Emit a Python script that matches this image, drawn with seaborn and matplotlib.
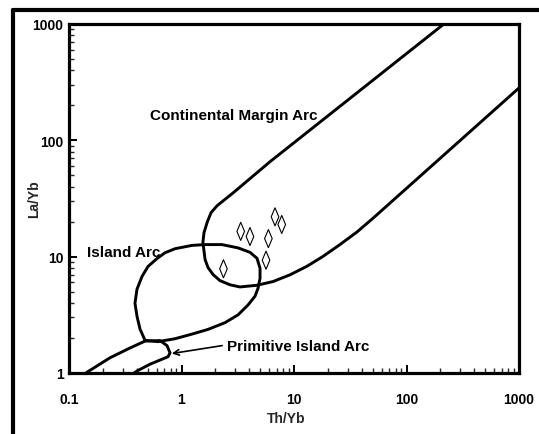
import numpy as np
import pandas as pd
import matplotlib
matplotlib.use("Agg")
import matplotlib.pyplot as plt
from matplotlib.path import Path
from matplotlib.lines import Line2D
import seaborn as sns

# ---- data (Th/Yb, La/Yb) ----
# Continental Margin Arc field outline
cma_th = [282, 211, 6.12, 2.87, 2.07, 1.83, 1.69, 1.585, 1.55, 1.62, 1.72,
          1.91, 2.20, 2.70, 3.31, 4.69, 6.50, 9.21, 13.1, 18.1, 25.6, 36.3,
          50.4, 1000, 1259]
cma_la = [1230, 986, 65.5, 35.3, 27.4, 23.9, 19.7, 16.1, 13.3, 9.46, 8.07,
          7.01, 6.22, 5.73, 5.49, 5.68, 6.11, 6.98, 8.29, 10.05, 12.7, 16.3,
          21.4, 282, 346]

# Island Arc field outline
ia_th = [0.474, 0.428, 0.402, 0.386, 0.402, 0.446, 0.504, 0.605, 0.713,
         0.875, 1.24, 1.62, 2.29, 3.18, 4.06, 4.69, 4.99, 4.99, 4.79, 4.50,
         3.90, 3.18, 2.44, 1.72, 1.24, 0.875, 0.618, 0.474]
ia_la = [1.91, 2.38, 3.08, 3.98, 5.25, 6.77, 8.24, 9.62, 10.8,
         11.7, 12.5, 12.7, 12.7, 11.9, 10.9, 9.68, 7.94, 6.51, 5.35, 4.57,
         3.84, 3.16, 2.71, 2.37, 2.16, 1.97, 1.86, 1.91]

# Primitive Island Arc field outline
pia_th = [0.125, 0.148, 0.231, 0.348, 0.474, 0.644, 0.743, 0.791, 0.759,
          0.525, 0.402, 0.334]
pia_la = [0.92, 1.03, 1.35, 1.64, 1.88, 1.90, 1.72, 1.49, 1.38,
          1.19, 1.04, 0.92]

# Samples
sample_th = [2.36, 3.36, 4.06, 5.64, 5.92, 6.78, 7.78]
sample_la = [7.87, 16.5, 14.9, 9.33, 14.3, 22.0, 18.9]

x_ticks = [0.1, 1, 10, 100, 1000]
x_ticklabels = ["0.1", "1", "10", "100", "1000"]
y_ticks = [1, 10, 100, 1000]
y_ticklabels = ["1", "10", "100", "1000"]

labels = {
    "Continental Margin Arc": (0.52, 165),
    "Island Arc": (0.145, 10.9),
    "Primitive Island Arc": (2.55, 1.72),
}
arrow_tail = (2.30, 1.72)
arrow_head = (0.82, 1.47)

# ---- plot ----
sns.set_style("white")
plt.rcParams["font.family"] = ["Liberation Sans", "DejaVu Sans"]
plt.rcParams["font.weight"] = "bold"

fig = plt.figure(figsize=(5.39, 4.35), dpi=100)
ax = fig.add_axes([69 / 539, 1 - 374 / 435, 450 / 539, 349 / 435])

for th, la in [(cma_th, cma_la), (ia_th, ia_la), (pia_th, pia_la)]:
    df = pd.DataFrame({"th": th, "la": la})
    sns.lineplot(data=df, x="th", y="la", sort=False, estimator=None,
                 color="black", linewidth=2.1, ax=ax)

diamond = Path([(0, 1), (0.42, 0), (0, -1), (-0.42, 0), (0, 1)],
               [Path.MOVETO, Path.LINETO, Path.LINETO, Path.LINETO, Path.CLOSEPOLY])
sdf = pd.DataFrame({"th": sample_th, "la": sample_la})
sns.scatterplot(data=sdf, x="th", y="la", marker=diamond, s=170,
                facecolors="none", edgecolor="black", linewidth=0.8, ax=ax,
                zorder=5)

ax.set_xscale("log")
ax.set_yscale("log")
ax.set_xlim(0.1, 1000)
ax.set_ylim(1, 1000)
ax.set_xticks(x_ticks)
ax.set_xticklabels(x_ticklabels)
ax.set_yticks(y_ticks)
ax.set_yticklabels(y_ticklabels)

for sp in ax.spines.values():
    sp.set_linewidth(2.3)
    sp.set_color("black")

ax.tick_params(which="major", direction="in", length=6, width=1.4,
               bottom=True, left=True, top=False, right=False,
               labelsize=10, colors="black")
ax.tick_params(which="minor", direction="in", length=3.5, width=1.0,
               bottom=True, left=True, top=False, right=False)
ax.tick_params(axis="x", which="major", pad=14)
ax.tick_params(axis="y", which="major", pad=4)
for t in ax.get_xticklabels() + ax.get_yticklabels():
    t.set_fontweight("bold")

ax.set_xlabel("Th/Yb", fontsize=10, fontweight="bold")
ax.set_ylabel("La/Yb", fontsize=10, fontweight="bold")
ax.xaxis.set_label_coords(0.482, -0.109)
ax.yaxis.set_label_coords(-0.062, 0.5)

for txt, (x, y) in labels.items():
    ax.text(x, y, txt, fontsize=11, fontweight="bold", ha="left",
            va="center", color="black")

ax.annotate("", xy=arrow_head, xytext=arrow_tail,
            arrowprops=dict(arrowstyle="->", color="black", lw=1.2,
                            shrinkA=0, shrinkB=0))

# outer frame (left and top edges)
fig.add_artist(Line2D([13 / 539, 13 / 539], [0, 1 - 10.5 / 435],
                      transform=fig.transFigure, color="black", lw=3.0))
fig.add_artist(Line2D([13 / 539, 1], [1 - 10.5 / 435, 1 - 10.5 / 435],
                      transform=fig.transFigure, color="black", lw=3.0))

fig.savefig("out.png", dpi=100)
